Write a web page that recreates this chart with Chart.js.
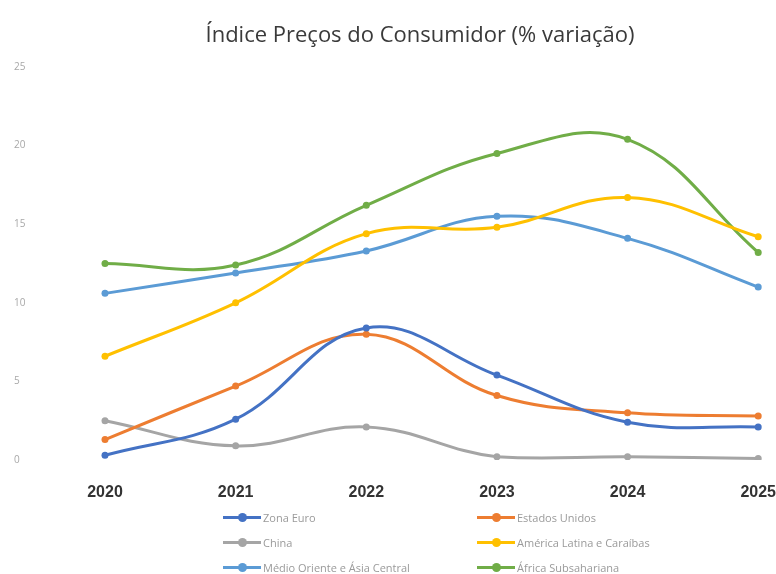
<!DOCTYPE html>
<html>
<head>
<meta charset="utf-8">
<script src="https://cdn.jsdelivr.net/npm/chart.js@4.4.1/dist/chart.umd.min.js"></script>
<style>
  html, body { margin: 0; padding: 0; background: #fff; }
  #wrap { position: relative; width: 776px; height: 574px; }
  #title { position: absolute; left: 0; width: 840px; top: 18px; text-align: center;
           font-family: "Open Sans", sans-serif; font-size: 22px; color: #3a3a3a; line-height: 30px; }
  #legend { position: absolute; left: 223px; top: 505px; display: grid;
            grid-template-columns: 254px auto; grid-auto-rows: 25px;
            font-family: "Open Sans", sans-serif; font-size: 11px; color: #9a9a9a; }
  .item { display: flex; align-items: center; }
  .mk { position: relative; width: 38px; height: 9px; margin-right: 2px; }
  .mk .ln { position: absolute; left: 0; right: 0; top: 3px; height: 3px; }
  .mk .dt { position: absolute; left: 15px; top: 0; width: 9px; height: 9px; border-radius: 50%; }
</style>
</head>
<body>
<div id="wrap">
  <canvas id="c" width="776" height="574"></canvas>
  <div id="title"></div>
  <div id="legend"></div>
</div>
<script>
const chartTitle = 'Índice Preços do Consumidor (% variação)';
const years = ['2020', '2021', '2022', '2023', '2024', '2025'];
const seriesNames = ['Zona Euro', 'Estados Unidos', 'China', 'América Latina e Caraíbas', 'Médio Oriente e Ásia Central', 'África Subsahariana'];
const zonaEuro = [0.3, 2.6, 8.4, 5.4, 2.4, 2.1];
const estadosUnidos = [1.3, 4.7, 8.0, 4.1, 3.0, 2.8];
const china = [2.5, 0.9, 2.1, 0.2, 0.2, 0.1];
const americaLatina = [6.6, 10.0, 14.4, 14.8, 16.7, 14.2];
const medioOriente = [10.6, 11.9, 13.3, 15.5, 14.1, 11.0];
const africaSub = [12.5, 12.4, 16.2, 19.5, 20.4, 13.2];
const yTicks = [0, 5, 10, 15, 20, 25];

const seriesValues = [zonaEuro, estadosUnidos, china, americaLatina, medioOriente, africaSub];
const colors = ['#4472C4', '#ED7D31', '#A5A5A5', '#FFC000', '#5B9BD5', '#70AD47'];

document.getElementById('title').textContent = chartTitle;

const datasets = seriesNames.map((name, i) => ({
  label: name,
  data: seriesValues[i],
  borderColor: colors[i],
  backgroundColor: colors[i],
  borderWidth: 3,
  pointRadius: 3.5,
  pointBorderWidth: 0,
  pointBackgroundColor: colors[i],
  tension: 0.4,
  fill: false
}));

new Chart(document.getElementById('c'), {
  type: 'line',
  data: { labels: years, datasets: datasets },
  options: {
    responsive: false,
    animation: false,
    layout: { padding: { left: 14, right: 0, top: 67, bottom: 0 } },
    plugins: {
      legend: { display: false },
      tooltip: { enabled: false },
      title: { display: false }
    },
    scales: {
      x: {
        type: 'category',
        offset: false,
        grid: { display: false, drawTicks: true, tickLength: 23 },
        border: { display: false },
        ticks: { color: '#333', font: { family: 'Liberation Sans', size: 16, weight: 'bold' }, padding: 0, maxRotation: 0, autoSkip: false },
        afterFit: (s) => { s.height = 114; }
      },
      y: {
        min: 0, max: 25,
        grid: { display: false, drawTicks: false },
        border: { display: false },
        afterBuildTicks: (s) => { s.ticks = yTicks.map(v => ({ value: v })); },
        ticks: { color: '#a8a8a8', font: { family: 'Open Sans', size: 10 }, crossAlign: 'far' },
        afterFit: (s) => { s.width = 91; }
      }
    }
  }
});

const legend = document.getElementById('legend');
seriesNames.forEach((name, i) => {
  const it = document.createElement('div');
  it.className = 'item';
  it.innerHTML = '<span class="mk"><span class="ln" style="background:' + colors[i] + '"></span><span class="dt" style="background:' + colors[i] + '"></span></span><span>' + name + '</span>';
  legend.appendChild(it);
});
</script>
</body>
</html>
